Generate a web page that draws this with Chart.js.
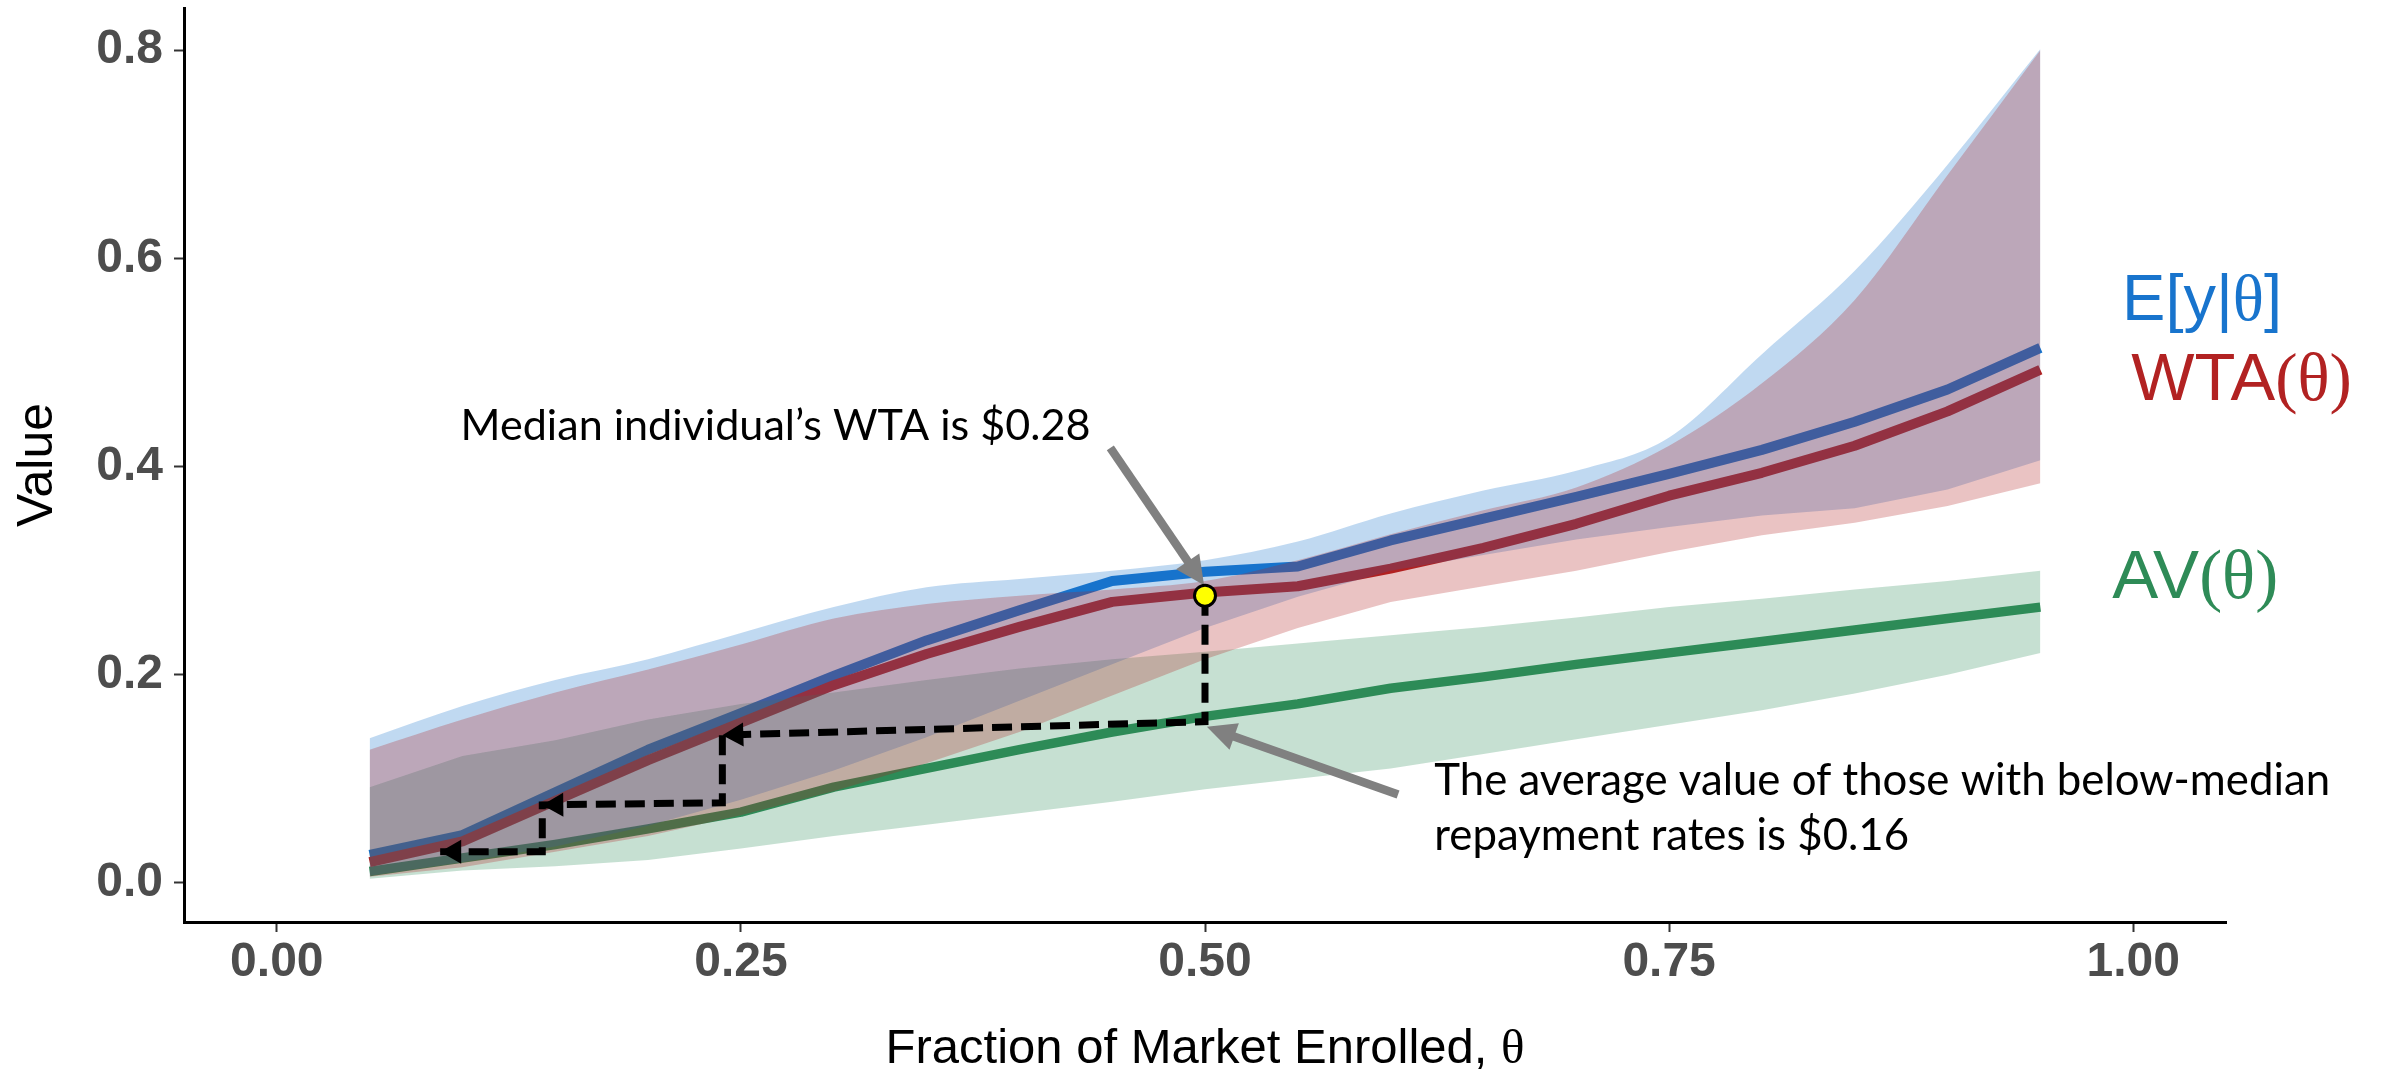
<!DOCTYPE html>
<html><head><meta charset="utf-8">
<script src="https://cdn.jsdelivr.net/npm/chart.js@4.4.1/dist/chart.umd.min.js"></script>
<style>html,body{margin:0;padding:0;background:#fff;overflow:hidden}#wrap{width:2392px;height:1074px}</style>
</head><body><div id="wrap"><canvas id="c" width="2392" height="1074"></canvas></div>
<script>
// ---------------- data ----------------
const theta   = [0.05,0.10,0.15,0.20,0.25,0.30,0.35,0.40,0.45,0.50,0.55,0.60,0.65,0.70,0.75,0.80,0.85,0.90,0.95];
const eyMean  = [0.027,0.046,0.087,0.128,0.163,0.199,0.233,0.262,0.290,0.299,0.304,0.329,0.350,0.371,0.393,0.416,0.443,0.474,0.514];
const eyHigh  = [0.139,0.170,0.195,0.215,0.240,0.265,0.284,0.292,0.300,0.310,0.328,0.355,0.377,0.396,0.428,0.508,0.588,0.690,0.801];
const eyLow   = [0.007,0.020,0.035,0.055,0.080,0.108,0.140,0.175,0.210,0.245,0.275,0.300,0.315,0.330,0.342,0.353,0.360,0.378,0.406];
const wtaMean = [0.020,0.040,0.079,0.118,0.154,0.190,0.220,0.246,0.270,0.279,0.285,0.302,0.322,0.345,0.372,0.394,0.420,0.453,0.493];
const wtaHigh = [0.128,0.157,0.183,0.205,0.229,0.254,0.268,0.276,0.282,0.290,0.310,0.335,0.358,0.380,0.420,0.480,0.560,0.680,0.800];
const wtaLow  = [0.006,0.015,0.030,0.045,0.065,0.088,0.115,0.145,0.180,0.215,0.245,0.270,0.285,0.300,0.318,0.334,0.346,0.362,0.384];
const avMean  = [0.011,0.024,0.037,0.052,0.068,0.092,0.110,0.128,0.145,0.160,0.172,0.187,0.198,0.210,0.221,0.232,0.243,0.254,0.265];
const avHigh  = [0.092,0.122,0.137,0.157,0.172,0.183,0.195,0.206,0.215,0.222,0.230,0.238,0.246,0.255,0.265,0.273,0.282,0.290,0.300];
const avLow   = [0.004,0.012,0.016,0.022,0.033,0.045,0.056,0.067,0.078,0.090,0.100,0.110,0.124,0.138,0.152,0.166,0.182,0.200,0.221];

const xTicks = [0, 0.25, 0.5, 0.75, 1.0];
const xTickLabels = ['0.00','0.25','0.50','0.75','1.00'];
const yTicks = [0, 0.2, 0.4, 0.6, 0.8];
const yTickLabels = ['0.0','0.2','0.4','0.6','0.8'];

// median individual
const medianTheta = [0.5];
const medianWTA = [0.276];
// dashed step path (theta, value)
const stepTheta = [0.5, 0.5, 0.24, 0.24, 0.143, 0.143, 0.088];
const stepValue = [0.276, 0.155, 0.142, 0.077, 0.075, 0.030, 0.030];
const stepArrowAt = [2, 4, 6];
// grey pointer arrows: [tailTheta, tailValue, tipTheta, tipValue]
const pointerA = [0.449, 0.418, 0.4995, 0.286];
const pointerB = [0.604, 0.085, 0.501, 0.150];

// text
const medianText = 'Median individual\u2019s WTA is $0.28';
const avgText = ['The average value of those with below-median', 'repayment rates is $0.16'];
const xTitle = ['Fraction of Market Enrolled, ', '\u03b8'];
const yTitle = 'Value';
const seriesLabels = [
  {parts:[['E[y|','s'],['\u03b8','r'],[']','s']], color:'#1874CD', at:[0.994, 0.541], size:65},
  {parts:[['WTA','s'],['(\u03b8)','r']], color:'#B22222', at:[0.999, 0.464], size:67},
  {parts:[['AV','s'],['(\u03b8)','r']], color:'#2E8B57', at:[0.9887, 0.274], size:69}
];
const medianTextAt = [0.099, 0.4256];
const avgTextAt = [0.6235, 0.0845];

// ---------------- build ----------------
const pts = arr => theta.map((t,i)=>({x:t, y:arr[i]}));
const BLUE='#1874CD', RED='#B22222', GREEN='#2E8B57';
const A=0.27;
const none='rgba(0,0,0,0)';
function lineDs(arr,color,order,w){return {data:pts(arr),borderColor:color,borderWidth:w,pointRadius:0,fill:false,tension:0,order,borderCapStyle:'butt',borderJoinStyle:'round'};}
function lowDs(arr,order){return {data:pts(arr),borderColor:none,borderWidth:0,pointRadius:0,fill:false,tension:0,order};}
function highDs(arr,fillColor,order,smooth){const d={data:pts(arr),borderColor:none,borderWidth:0,pointRadius:0,fill:'-1',backgroundColor:fillColor,tension:0,order}; if(smooth){d.cubicInterpolationMode='monotone';} return d;}

const datasets = [
  lineDs(avMean, GREEN, 20, 9.5),
  lineDs(eyMean, BLUE, 19, 10),
  lineDs(wtaMean, RED, 18, 10),
  lowDs(avLow, 17), highDs(avHigh, `rgba(46,139,87,${A})`, 16, false),
  lowDs(eyLow, 15), highDs(eyHigh, `rgba(24,116,205,${A})`, 14, true),
  lowDs(wtaLow, 13), highDs(wtaHigh, `rgba(178,34,34,${A})`, 12, true),
  {data: stepTheta.map((t,i)=>({x:t,y:stepValue[i]})), borderColor:'#000', borderWidth:7, borderDash:[20,9], pointRadius:0, fill:false, tension:0, order:2, borderCapStyle:'butt', borderJoinStyle:'miter'},
  {data: medianTheta.map((t,i)=>({x:t,y:medianWTA[i]})), showLine:false, pointRadius:10.5, pointBackgroundColor:'#FFFF00', pointBorderColor:'#000', pointBorderWidth:3, order:0}
];
const DOT_INDEX = datasets.length-1;

function arrowHead(ctx, x0,y0,x1,y1,len,half,color){
  const ang=Math.atan2(y1-y0,x1-x0);
  ctx.save(); ctx.translate(x1,y1); ctx.rotate(ang);
  ctx.fillStyle=color; ctx.beginPath(); ctx.moveTo(0,0); ctx.lineTo(-len,-half); ctx.lineTo(-len,half); ctx.closePath(); ctx.fill();
  ctx.restore();
}
function fontFor(f,size){return `${size}px ${f==='r'?'"Liberation Serif"':'"Liberation Sans"'}`;}
function drawParts(ctx, parts, x, y, size, color){
  ctx.fillStyle=color; ctx.textAlign='left'; ctx.textBaseline='alphabetic';
  let cx=x;
  for(const [t,f] of parts){ ctx.font=fontFor(f,size); ctx.fillText(t,cx,y); cx+=ctx.measureText(t).width; }
}
function partsWidth(ctx, parts, size){
  let w=0; for(const [t,f] of parts){ctx.font=fontFor(f,size); w+=ctx.measureText(t).width;} return w;
}

const overlay = {
  id:'overlay',
  beforeDatasetDraw(chart,args){
    if(args.index!==DOT_INDEX) return;
    const ctx=chart.ctx, xs=chart.scales.x, ys=chart.scales.y;
    for(const k of stepArrowAt){
      arrowHead(ctx, xs.getPixelForValue(stepTheta[k-1]), ys.getPixelForValue(stepValue[k-1]),
        xs.getPixelForValue(stepTheta[k]), ys.getPixelForValue(stepValue[k]), 21, 12, '#000');
    }
    for(const p of [pointerA,pointerB]){
      const x0=xs.getPixelForValue(p[0]), y0=ys.getPixelForValue(p[1]);
      const x1=xs.getPixelForValue(p[2]), y1=ys.getPixelForValue(p[3]);
      const ang=Math.atan2(y1-y0,x1-x0), L=29;
      ctx.save(); ctx.strokeStyle='#808080'; ctx.lineWidth=8.5; ctx.lineCap='butt';
      ctx.beginPath(); ctx.moveTo(x0,y0); ctx.lineTo(x1-Math.cos(ang)*(L-4), y1-Math.sin(ang)*(L-4)); ctx.stroke(); ctx.restore();
      arrowHead(ctx,x0,y0,x1,y1,L,14,'#808080');
    }
  },
  afterDraw(chart){
    const ctx=chart.ctx, xs=chart.scales.x, ys=chart.scales.y, ca=chart.chartArea;
    ctx.save();
    for(const s of seriesLabels){
      drawParts(ctx, s.parts, xs.getPixelForValue(s.at[0]), ys.getPixelForValue(s.at[1]), s.size, s.color);
    }
    ctx.fillStyle='#000'; ctx.textAlign='left'; ctx.textBaseline='alphabetic';
    ctx.font='100px Lato';
    let w=ctx.measureText(medianText).width; let sz=100*630/w;
    ctx.font=`${sz}px Lato`;
    ctx.fillText(medianText, xs.getPixelForValue(medianTextAt[0]), ys.getPixelForValue(medianTextAt[1]));
    ctx.font='100px Lato';
    w=ctx.measureText(avgText[1]).width; sz=100*475/w;
    ctx.font=`${sz}px Lato`;
    const ax=xs.getPixelForValue(avgTextAt[0]), ay=ys.getPixelForValue(avgTextAt[1]);
    ctx.fillText(avgText[0], ax, ay);
    ctx.fillText(avgText[1], ax, ay+55);
    const xp=[[xTitle[0],'s'],[xTitle[1],'r']];
    const tw=partsWidth(ctx,xp,49);
    drawParts(ctx, xp, (ca.left+ca.right)/2 - tw/2, 1063, 49, '#000');
    ctx.translate(52,(ca.top+ca.bottom)/2); ctx.rotate(-Math.PI/2);
    ctx.font='50px "Liberation Sans"'; ctx.textAlign='center'; ctx.fillStyle='#000';
    ctx.fillText(yTitle,0,0);
    ctx.restore();
  }
};

const tickFont={family:'"Liberation Sans"', size:48, weight:'bold'};
new Chart(document.getElementById('c'),{
  type:'line',
  data:{datasets},
  options:{
    responsive:false, animation:false, devicePixelRatio:1,
    layout:{autoPadding:false, padding:{left:0,right:166,top:8,bottom:0}},
    plugins:{legend:{display:false}, tooltip:{enabled:false}},
    scales:{
      x:{type:'linear', min:-0.05, max:1.05,
        afterBuildTicks:s=>{s.ticks=xTicks.map(v=>({value:v}));},
        afterFit:s=>{s.height=152; s.paddingLeft=0; s.paddingRight=0;},
        ticks:{callback:v=>xTickLabels[xTicks.indexOf(v)], font:tickFont, color:'#4d4d4d', padding:2, maxRotation:0, autoSkip:false},
        grid:{display:true, drawOnChartArea:false, drawTicks:true, tickLength:10, tickWidth:2, tickColor:'#333'},
        border:{display:true, color:'#000', width:3}},
      y:{type:'linear', min:-0.0375, max:0.8405,
        afterBuildTicks:s=>{s.ticks=yTicks.map(v=>({value:v}));},
        afterFit:s=>{s.width=184; s.paddingTop=0; s.paddingBottom=0;},
        ticks:{callback:v=>yTickLabels[yTicks.indexOf(v)], font:tickFont, color:'#4d4d4d', padding:11, autoSkip:false},
        grid:{display:true, drawOnChartArea:false, drawTicks:true, tickLength:10, tickWidth:2, tickColor:'#333'},
        border:{display:true, color:'#000', width:3}}
    }
  },
  plugins:[overlay]
});
</script></body></html>
